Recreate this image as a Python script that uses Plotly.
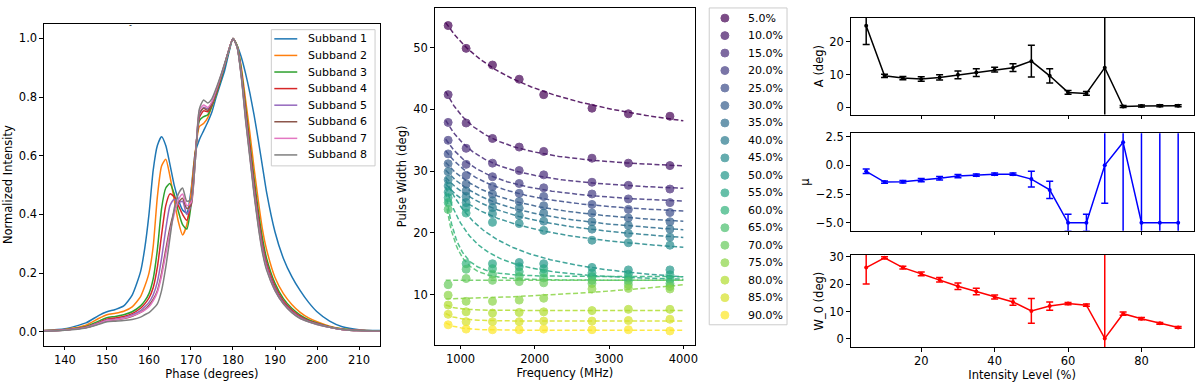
import numpy as np
import plotly.graph_objects as go
from plotly.colors import sample_colorscale

# ---- left panel: normalised profiles per subband ----
phase = [135, 140, 145, 148, 150, 152, 154, 156, 158, 159, 160, 161, 162, 163, 164, 165,
         166, 167, 168, 169, 170, 171, 172, 173, 174, 175, 176, 177, 178, 179, 180, 181,
         182, 183, 184, 185, 186, 187, 188, 190, 192, 194, 196, 198, 200, 203, 206, 210, 215]

sub1 = [0.004, 0.010, 0.030, 0.055, 0.068, 0.076, 0.088, 0.125, 0.205, 0.285, 0.400, 0.550,
        0.635, 0.665, 0.635, 0.570, 0.500, 0.450, 0.415, 0.405, 0.480, 0.610, 0.655, 0.685,
        0.715, 0.750, 0.800, 0.845, 0.890, 0.950, 1.000, 0.975, 0.935, 0.880, 0.815, 0.740,
        0.655, 0.565, 0.475, 0.340, 0.250, 0.188, 0.140, 0.100, 0.068, 0.036, 0.017, 0.007, 0.004]
sub2 = [0.004, 0.008, 0.022, 0.045, 0.058, 0.063, 0.070, 0.085, 0.120, 0.155, 0.200, 0.290,
        0.460, 0.565, 0.588, 0.530, 0.450, 0.375, 0.330, 0.365, 0.470, 0.610, 0.700, 0.710,
        0.730, 0.770, 0.810, 0.860, 0.910, 0.960, 1.000, 0.975, 0.900, 0.790, 0.680, 0.560,
        0.450, 0.350, 0.280, 0.185, 0.130, 0.093, 0.066, 0.047, 0.034, 0.019, 0.010, 0.005, 0.003]
sub3 = [0.003, 0.007, 0.018, 0.036, 0.048, 0.052, 0.058, 0.068, 0.088, 0.105, 0.130, 0.180,
        0.280, 0.420, 0.490, 0.505, 0.470, 0.410, 0.365, 0.350, 0.430, 0.600, 0.720, 0.733,
        0.740, 0.770, 0.810, 0.855, 0.905, 0.955, 1.000, 0.975, 0.890, 0.765, 0.645, 0.525,
        0.415, 0.320, 0.250, 0.165, 0.113, 0.080, 0.057, 0.041, 0.030, 0.017, 0.009, 0.004, 0.003]
sub4 = [0.003, 0.006, 0.016, 0.031, 0.043, 0.047, 0.052, 0.062, 0.080, 0.095, 0.115, 0.150,
        0.220, 0.330, 0.430, 0.470, 0.460, 0.430, 0.400, 0.380, 0.440, 0.600, 0.730, 0.753,
        0.750, 0.775, 0.815, 0.860, 0.910, 0.960, 1.000, 0.970, 0.880, 0.750, 0.630, 0.505,
        0.395, 0.300, 0.235, 0.155, 0.105, 0.074, 0.052, 0.038, 0.028, 0.016, 0.008, 0.004, 0.003]
sub5 = [0.003, 0.006, 0.015, 0.029, 0.040, 0.043, 0.048, 0.057, 0.072, 0.085, 0.100, 0.125,
        0.170, 0.250, 0.350, 0.430, 0.452, 0.440, 0.445, 0.400, 0.430, 0.590, 0.740, 0.765,
        0.760, 0.780, 0.820, 0.865, 0.910, 0.960, 1.000, 0.970, 0.875, 0.740, 0.615, 0.490,
        0.380, 0.290, 0.225, 0.148, 0.100, 0.070, 0.049, 0.036, 0.027, 0.015, 0.008, 0.004, 0.003]
sub6 = [0.003, 0.006, 0.014, 0.027, 0.037, 0.040, 0.045, 0.053, 0.066, 0.076, 0.090, 0.110,
        0.140, 0.200, 0.280, 0.355, 0.410, 0.440, 0.455, 0.420, 0.430, 0.580, 0.745, 0.762,
        0.755, 0.780, 0.820, 0.865, 0.910, 0.960, 1.000, 0.970, 0.870, 0.730, 0.605, 0.480,
        0.370, 0.280, 0.218, 0.143, 0.097, 0.068, 0.047, 0.035, 0.026, 0.015, 0.008, 0.004, 0.003]
sub7 = [0.003, 0.006, 0.014, 0.027, 0.038, 0.041, 0.046, 0.054, 0.066, 0.074, 0.085, 0.105,
        0.135, 0.190, 0.265, 0.340, 0.400, 0.450, 0.470, 0.430, 0.440, 0.580, 0.755, 0.773,
        0.765, 0.785, 0.825, 0.868, 0.912, 0.960, 1.000, 0.970, 0.870, 0.725, 0.600, 0.475,
        0.365, 0.275, 0.215, 0.140, 0.095, 0.066, 0.046, 0.034, 0.025, 0.015, 0.008, 0.004, 0.003]
sub8 = [0.002, 0.005, 0.013, 0.025, 0.034, 0.036, 0.038, 0.042, 0.050, 0.058, 0.065, 0.078,
        0.095, 0.140, 0.220, 0.320, 0.420, 0.470, 0.490, 0.445, 0.450, 0.580, 0.760, 0.790,
        0.780, 0.795, 0.830, 0.870, 0.915, 0.960, 1.000, 0.970, 0.865, 0.720, 0.595, 0.470,
        0.360, 0.270, 0.210, 0.140, 0.095, 0.065, 0.045, 0.034, 0.025, 0.015, 0.008, 0.004, 0.003]
profiles = [sub1, sub2, sub3, sub4, sub5, sub6, sub7, sub8]
sub_names = ["Subband {}".format(i + 1) for i in range(8)]
sub_colors = ["#1f77b4", "#ff7f0e", "#2ca02c", "#d62728",
              "#9467bd", "#8c564b", "#e377c2", "#7f7f7f"]

# ---- middle panel: pulse widths per intensity level ----
freqs = [833, 1075, 1430, 1790, 2120, 2770, 3260, 3820]
levels = [5, 10, 15, 20, 25, 30, 35, 40, 45, 50, 55, 60, 65, 70, 75, 80, 85, 90]
widths = [
    [53.6, 49.9, 47.2, 44.9, 42.4, 40.2, 39.3, 38.9],
    [42.4, 37.8, 35.3, 33.9, 33.2, 32.1, 31.3, 30.9],
    [37.9, 33.7, 31.3, 30.1, 29.4, 28.2, 27.7, 27.1],
    [35.0, 31.1, 29.1, 28.0, 27.3, 26.3, 25.5, 24.9],
    [32.8, 29.3, 27.5, 26.4, 25.9, 24.6, 23.8, 23.3],
    [31.2, 27.9, 26.3, 25.1, 24.4, 23.2, 22.4, 21.8],
    [29.9, 26.8, 25.2, 24.0, 23.2, 21.8, 21.2, 20.6],
    [28.6, 25.9, 24.1, 22.8, 21.9, 20.6, 19.9, 19.3],
    [27.6, 24.9, 23.1, 21.5, 20.4, 18.8, 18.4, 18.0],
    [26.6, 24.1, 21.7, 15.2, 15.0, 14.4, 14.0, 14.0],
    [25.7, 23.2, 15.0, 14.5, 14.2, 13.5, 13.3, 13.2],
    [24.9, 15.0, 14.2, 13.7, 13.5, 12.9, 12.7, 12.5],
    [23.8, 14.1, 13.3, 12.9, 12.7, 12.3, 12.2, 11.8],
    [11.6, 12.6, 12.3, 12.1, 11.9, 11.8, 11.6, 11.3],
    [9.9, 8.9, 8.9, 9.1, 9.4, 10.9, 11.0, 10.9],
    [8.3, 7.2, 7.0, 7.1, 7.2, 7.4, 7.6, 7.6],
    [6.8, 5.6, 5.6, 5.6, 5.7, 5.7, 5.8, 6.0],
    [5.1, 4.4, 4.3, 4.3, 4.4, 4.3, 4.3, 4.1],
]
level_names = ["{:.1f}%".format(l) for l in levels]

# ---- right panels: fit parameters, W = A (f/GHz)^mu + W_0 ----
A = [25.0, 9.6, 8.9, 8.6, 9.1, 9.9, 10.6, 11.5, 12.1, 14.1, 9.6, 4.5, 4.2, 12.1, 0.15, 0.3, 0.4, 0.4]
A_err = [5.8, 0.5, 0.5, 0.7, 0.8, 1.2, 1.2, 0.7, 1.2, 4.9, 2.2, 0.6, 0.6, 60, 0.3, 0.3, 0.3, 0.3]
mu = [-0.52, -1.46, -1.43, -1.29, -1.12, -0.94, -0.86, -0.77, -0.77, -1.2, -2.14,
      -5.0, -5.0, 0.0, 2.0, -5.0, -5.0, -5.0]
mu_err = [0.2, 0.1, 0.1, 0.15, 0.15, 0.15, 0.1, 0.1, 0.1, 0.68, 0.75, 0.74, 0.74, 3.3, 40, 40, 40, 40]
W0 = [26.0, 29.6, 26.0, 23.7, 21.6, 19.2, 17.3, 15.3, 13.5, 10.2, 12.0, 12.9, 12.3, 0.2, 9.2, 7.4, 5.7, 4.2]
W0_err = [6.0, 0.4, 0.5, 0.7, 0.8, 1.2, 1.2, 0.7, 1.2, 4.5, 1.5, 0.4, 0.4, 60, 0.6, 0.4, 0.3, 0.3]

W, H = 1200, 385
FONT = "DejaVu Sans"
FS = 11.5


def px(x):
    return x / W


def py(y):
    return 1 - y / H


fig = go.Figure()

for i, prof in enumerate(profiles):
    fig.add_trace(go.Scatter(x=phase, y=prof, mode="lines", name=sub_names[i], showlegend=False,
                             line=dict(color=sub_colors[i], width=1.5, shape="spline", smoothing=0.6),
                             xaxis="x", yaxis="y"))

lvl_colors = sample_colorscale("Viridis", [i / (len(levels) - 1) for i in range(len(levels))])
f_fit = np.linspace(800, 4000, 160)
for i, lvl in enumerate(levels):
    w_fit = A[i] * (f_fit / 1000.0) ** mu[i] + W0[i]
    fig.add_trace(go.Scatter(x=f_fit, y=w_fit, mode="lines", showlegend=False, opacity=0.85,
                             line=dict(color=lvl_colors[i], width=1.5, dash="5px,2.5px"),
                             xaxis="x2", yaxis="y2"))
for i, lvl in enumerate(levels):
    fig.add_trace(go.Scatter(x=freqs, y=widths[i], mode="markers", name=level_names[i], showlegend=False,
                             marker=dict(color=lvl_colors[i], size=8, opacity=0.7,
                                         line=dict(color=lvl_colors[i], width=1)),
                             xaxis="x2", yaxis="y2"))

for vals, errs, col, xa, ya in [(A, A_err, "black", "x3", "y3"),
                                (mu, mu_err, "blue", "x4", "y4"),
                                (W0, W0_err, "red", "x5", "y5")]:
    fig.add_trace(go.Scatter(x=levels, y=vals, mode="lines+markers", showlegend=False,
                             line=dict(color=col, width=1.5), marker=dict(color=col, size=4),
                             error_y=dict(type="data", array=errs, color=col, thickness=1.5, width=3.5),
                             xaxis=xa, yaxis=ya))

# legends drawn as boxes, sample marks and text (matplotlib-like spacing)
shapes = []
annotations = []
shapes.append(dict(type="rect", xref="paper", yref="paper", x0=px(272), x1=px(376), y0=py(163), y1=py(25),
                   line=dict(color="#cccccc", width=1), fillcolor="rgba(255,255,255,0.85)", layer="above"))
for i, name in enumerate(sub_names):
    yy = 34.3 + 16.8 * i
    shapes.append(dict(type="line", xref="paper", yref="paper", x0=px(275), x1=px(298), y0=py(yy), y1=py(yy),
                       line=dict(color=sub_colors[i], width=1.5), layer="above"))
    annotations.append(dict(text=name, x=px(307), y=py(yy), xref="paper", yref="paper", xanchor="left",
                            yanchor="middle", showarrow=False, font=dict(size=11)))
shapes.append(dict(type="rect", xref="paper", yref="paper", x0=px(711), x1=px(789), y0=py(324), y1=py(3),
                   line=dict(color="#cccccc", width=1), fillcolor="rgba(255,255,255,0.85)", layer="above"))
for i, name in enumerate(level_names):
    yy = 13.3 + 17.7 * i
    shapes.append(dict(type="circle", xref="paper", yref="paper", x0=px(722.7), x1=px(730.7),
                       y0=py(yy + 4), y1=py(yy - 4), fillcolor=lvl_colors[i], opacity=0.7,
                       line=dict(color=lvl_colors[i], width=1), layer="above"))
    annotations.append(dict(text=name, x=px(748), y=py(yy), xref="paper", yref="paper", xanchor="left",
                            yanchor="middle", showarrow=False, font=dict(size=11)))
annotations.append(dict(text="-", x=px(127), y=py(14), xref="paper", yref="paper",
                        showarrow=False, font=dict(size=8)))

ax = dict(showline=True, linecolor="black", linewidth=1, mirror=True, ticks="outside",
          ticklen=3.5, tickwidth=1, tickcolor="black", showgrid=False, zeroline=False,
          tickfont=dict(size=FS, color="black"), title_font=dict(size=FS, color="black"))
rx = dict(ax, domain=[0.7106, 0.9973], range=[0.75, 94.25], tickvals=[20, 40, 60, 80])

fig.update_layout(
    width=W, height=H, margin=dict(l=0, r=0, t=0, b=0),
    paper_bgcolor="white", plot_bgcolor="white", showlegend=False,
    font=dict(family=FONT, size=11, color="black"),
    xaxis=dict(ax, domain=[0.0367, 0.3175], range=[135, 215], tickvals=list(range(140, 211, 10)),
               title=dict(text="Phase (degrees)", standoff=2), anchor="y"),
    yaxis=dict(ax, domain=[0.1039, 0.9506], range=[-0.047, 1.05], tickvals=[0, 0.2, 0.4, 0.6, 0.8, 1.0],
               tickformat=".1f", title=dict(text="Normalized Intensity", standoff=3), anchor="x"),
    xaxis2=dict(ax, domain=[0.3631, 0.5806], range=[651, 4157], tickvals=[1000, 2000, 3000, 4000],
                title=dict(text="Frequency (MHz)", standoff=2), anchor="y2"),
    yaxis2=dict(ax, domain=[0.1065, 0.9914], range=[1.9, 56.4], tickvals=[10, 20, 30, 40, 50],
                title=dict(text="Pulse Width (deg)", standoff=4), anchor="x2"),
    xaxis3=dict(rx, showticklabels=False, anchor="y3"),
    xaxis4=dict(rx, showticklabels=False, anchor="y4", matches="x3"),
    xaxis5=dict(rx, anchor="y5", matches="x3", title=dict(text="Intensity Level (%)", standoff=2)),
    yaxis3=dict(ax, domain=[0.7117, 0.967], range=[-2.3, 27.5], tickvals=[0, 10, 20],
                title=dict(text="A (deg)", standoff=3), anchor="x3"),
    yaxis4=dict(ax, domain=[0.406, 0.6623], range=[-5.69, 2.78], tickvals=[-5, -2.5, 0, 2.5],
                tickformat=".1f", title=dict(text="μ", standoff=3), anchor="x4"),
    yaxis5=dict(ax, domain=[0.0995, 0.3421], range=[-3.0, 30.6], tickvals=[0, 10, 20, 30],
                title=dict(text="W_0 (deg)", standoff=3), anchor="x5"),
    shapes=shapes,
    annotations=annotations,
)

fig.write_html("out.html", config={"displayModeBar": False},
               post_script="document.body.style.margin='0';")
